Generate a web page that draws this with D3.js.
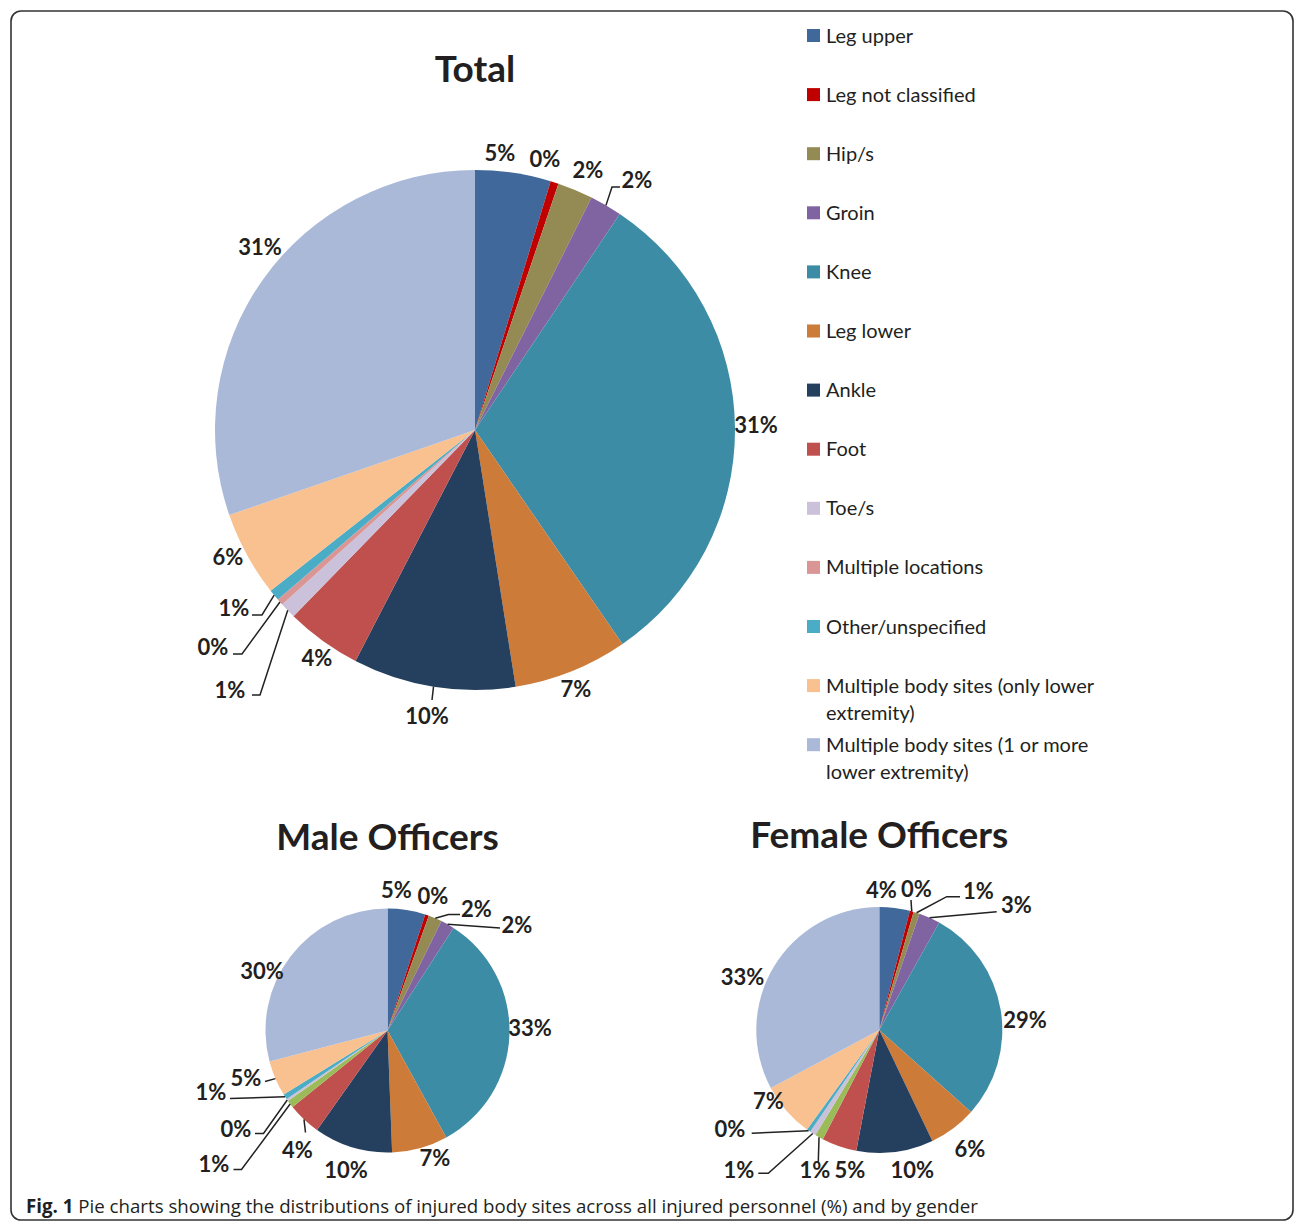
<!DOCTYPE html>
<html>
<head>
<meta charset="utf-8">
<script src="https://d3js.org/d3.v7.min.js"></script>
<style>
  body { margin: 0; background: #fff; }
  text { fill: #231f20; }
</style>
</head>
<body>
<svg width="1296" height="1224"></svg>
<script>
// Body site categories (legend order = slice order, clockwise from 12 o'clock)
var categories = ['Leg upper', 'Leg not classified', 'Hip/s', 'Groin', 'Knee', 'Leg lower',
    'Ankle', 'Foot', 'Toe/s', 'Multiple locations', 'Other/unspecified',
    'Multiple body sites (only lower extremity)', 'Multiple body sites (1 or more lower extremity)'];

// Slice sizes (%)
var totalValues  = [4.7, 0.5, 2.2, 2.0, 31.0, 7.1, 10.1, 4.7, 1.0, 0.4, 0.7, 5.3, 30.3];
var maleValues   = [5.0, 0.5, 1.8, 1.8, 32.9, 7.4, 10.4, 4.4, 1.0, 0.3, 0.7, 4.7, 29.1];
var femaleValues = [4.0, 0.5, 0.8, 2.8, 28.5, 6.3, 10.1, 4.6, 1.1, 0.8, 0.5, 7.2, 32.8];

// Printed (rounded) labels
var totalPct  = [5, 0, 2, 2, 31, 7, 10, 4, 1, 0, 1, 6, 31];
var malePct   = [5, 0, 2, 2, 33, 7, 10, 4, 1, 0, 1, 5, 30];
var femalePct = [4, 0, 1, 3, 29, 6, 10, 5, 1, 1, 0, 7, 33];

var colors = ['#41689a', '#c00000', '#948a54', '#8064a2', '#3b8ca4', '#cc7b38', '#253f5f',
    '#c0504d', '#ccc1da', '#d99694', '#4bacc6', '#f9c090', '#a9b9d7'];
// the small pies use green / lavender for the two thin slices after Foot
var smallColors = colors.slice();
smallColors[8] = '#9bbb59';
smallColors[9] = '#ccc1da';

var svg = d3.select('svg');

// frame
svg.append('rect')
    .attr('x', 11).attr('y', 11)
    .attr('width', 1282).attr('height', 1209)
    .attr('rx', 10)
    .attr('fill', 'none')
    .attr('stroke', '#333')
    .attr('stroke-width', 1.6);

// Layout for each pie: label offsets from the centre, leader line bends
var pies = [
    {title: 'Total', values: totalValues, pct: totalPct, colors: colors,
     cx: 475, cy: 430, r: 260, titleY: 82,
     labels: [[25,-277],[70,-271],[113,-260],[162,-250],[281,-5],[101,259],[-48,286],
              [-158,228],[-245,260],[-262,217],[-241,178],[-247,127],[-215,-183]],
     leaders: {3: [[137,-243],[145,-243]], 6: [[-43,270]], 8: [[-215,265],[-223,265]],
               9: [[-233,224],[-242,224]], 10: [[-213,185],[-223,185]]}},
    {title: 'Male Officers', values: maleValues, pct: malePct, colors: smallColors,
     cx: 387.5, cy: 1030.5, r: 122, titleY: 850,
     labels: [[9,-140],[45.5,-134.5],[89,-121],[129.5,-105],[142.5,-2.5],[47.5,128],[-41.5,140],
              [-90,120],[-173.5,134],[-151.5,99],[-176.5,62],[-141.5,48],[-125.5,-59.5]],
     leaders: {2: [[61,-116],[72.5,-116]], 3: [[112.5,-102.5]], 7: [[-82,102]],
               8: [[-146,139],[-154,139]], 9: [[-124,103],[-132.5,103]], 10: [[-157.5,68]],
               11: [[-122.5,51]]}},
    {title: 'Female Officers', values: femaleValues, pct: femalePct, colors: smallColors,
     cx: 879.3, cy: 1030, r: 123, titleY: 848,
     labels: [[2,-139.5],[37,-140.5],[99,-138.5],[137,-124.5],[145.7,-10],[90.7,119.5],[33,140],
              [-29.3,140],[-64.3,140],[-140.3,140.5],[-149.3,99.5],[-110.8,71.5],[-136.8,-52.5]],
     leaders: {1: [[31.7,-130]], 2: [[67.4,-133.3],[80.7,-133.3]], 3: [[117.4,-118.3]],
               8: [[-61,131.7]], 9: [[-111,143.3],[-121,143.3]], 10: [[-127.6,103.3]]}}
];

var pie = d3.pie().sort(null).value(function(d) { return d.v; });

pies.forEach(function(p) {
    var data = p.values.map(function(v, i) { return {v: v, i: i}; });
    var arcs = pie(data);
    var arc = d3.arc().innerRadius(0).outerRadius(p.r);
    var edge = d3.arc().innerRadius(p.r).outerRadius(p.r);

    var g = svg.append('g')
        .attr('transform', 'translate(' + [p.cx, p.cy] + ')');

    g.selectAll('path.slice')
        .data(arcs)
        .enter()
        .append('path')
        .attr('class', 'slice')
        .attr('d', arc)
        .attr('fill', function(d) { return p.colors[d.data.i]; });

    // leader lines
    var line = d3.line();
    Object.keys(p.leaders).forEach(function(k) {
        var pts = [edge.centroid(arcs[+k])].concat(p.leaders[k]);
        g.append('path')
            .attr('d', line(pts))
            .attr('fill', 'none')
            .attr('stroke', '#222')
            .attr('stroke-width', 1.5);
    });

    g.selectAll('text.lbl')
        .data(arcs)
        .enter()
        .append('text')
        .attr('class', 'lbl')
        .attr('x', function(d) { return p.labels[d.data.i][0]; })
        .attr('y', function(d) { return p.labels[d.data.i][1]; })
        .attr('dy', '0.36em')
        .attr('text-anchor', 'middle')
        .style('font-family', 'Lato, sans-serif')
        .style('font-weight', 'bold')
        .style('font-size', '22px')
        .text(function(d) { return p.pct[d.data.i] + '%'; });

    svg.append('text')
        .attr('x', p.cx)
        .attr('y', p.titleY)
        .attr('text-anchor', 'middle')
        .style('font-family', 'Lato, sans-serif')
        .style('font-weight', 'bold')
        .style('font-size', '37px')
        .text(p.title);
});

// legend
var legend = svg.append('g').attr('transform', 'translate(807,0)');
var rows = legend.selectAll('g.row')
    .data(categories)
    .enter()
    .append('g')
    .attr('class', 'row')
    .attr('transform', function(d, i) { return 'translate(0,' + (35.5 + i * 59.1) + ')'; });

rows.append('rect')
    .attr('x', 0).attr('y', -6.5)
    .attr('width', 13).attr('height', 13)
    .attr('fill', function(d, i) { return colors[i]; });

rows.each(function(name) {
    // wrap long names at about 31 characters
    var lines = [], cur = '';
    name.split(' ').forEach(function(w) {
        var next = cur ? cur + ' ' + w : w;
        if (next.length > 31 && cur) { lines.push(cur); cur = w; } else { cur = next; }
    });
    lines.push(cur);
    var t = d3.select(this).append('text')
        .attr('x', 19)
        .attr('y', 0)
        .style('font-family', 'Lato, sans-serif')
        .style('font-size', '20px');
    lines.forEach(function(l, j) {
        t.append('tspan')
            .attr('x', 19)
            .attr('dy', j === 0 ? '0.35em' : '27px')
            .text(l);
    });
});

// caption
var cap = svg.append('text')
    .attr('x', 26)
    .attr('y', 1213)
    .style('font-family', '"Open Sans", sans-serif')
    .style('font-size', '18.7px');
cap.append('tspan').style('font-weight', 'bold').text('Fig. 1');
cap.append('tspan').text(' Pie charts showing the distributions of injured body sites across all injured personnel (%) and by gender');
</script>
</body>
</html>
